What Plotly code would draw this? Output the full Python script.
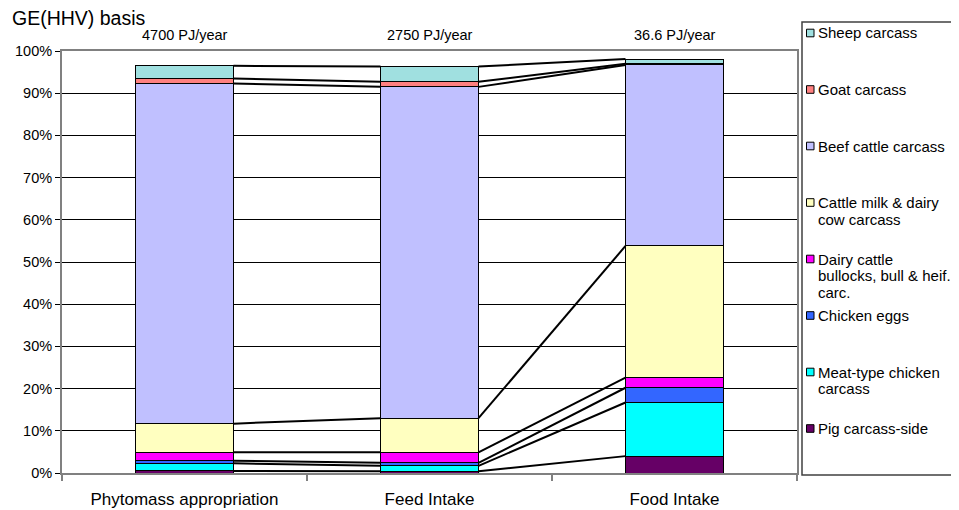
import plotly.graph_objects as go

# ---------------- data ----------------
categories = ["Phytomass appropriation", "Feed Intake", "Food Intake"]
energy_labels = ["4700 PJ/year", "2750 PJ/year", "36.6 PJ/year"]

# series listed bottom -> top of the stack (values in % of GE)
series_names = [
    "Pig carcass-side",
    "Meat-type chicken carcass",
    "Chicken eggs",
    "Dairy cattle bullocks, bull & heif. carc.",
    "Cattle milk & dairy cow carcass",
    "Beef cattle carcass",
    "Goat carcass",
    "Sheep carcass",
]
pig = [0.5, 0.4, 4.0]
meat_chicken = [1.8, 1.3, 12.7]
chicken_eggs = [0.6, 0.7, 3.5]
dairy_bullocks = [2.0, 2.5, 2.4]
cattle_milk = [6.8, 8.1, 31.2]
beef = [80.6, 78.5, 42.9]
goat = [1.2, 1.2, 0.3]
sheep = [3.0, 3.6, 1.1]
series_values = [pig, meat_chicken, chicken_eggs, dairy_bullocks,
                 cattle_milk, beef, goat, sheep]

# legend text (wrapped as in the original)
legend_lines = {
    "Sheep carcass": ["Sheep carcass"],
    "Goat carcass": ["Goat carcass"],
    "Beef cattle carcass": ["Beef cattle carcass"],
    "Cattle milk & dairy cow carcass": ["Cattle milk & dairy", "cow carcass"],
    "Dairy cattle bullocks, bull & heif. carc.": ["Dairy cattle", "bullocks, bull & heif.", "carc."],
    "Chicken eggs": ["Chicken eggs"],
    "Meat-type chicken carcass": ["Meat-type chicken", "carcass"],
    "Pig carcass-side": ["Pig carcass-side"],
}

# ---------------- style ----------------
colors = ["#660066", "#00FFFF", "#3366FF", "#FF00FF",
          "#FFFFC0", "#C0C0FF", "#FF8080", "#A0E0E0"]
FONT = "Liberation Sans, Arial, sans-serif"
BAR_W = 0.4
OFF = 8                      # default page (body) margin of the html page
PAGE_W, PAGE_H = 959, 510
W, H = PAGE_W - OFF, PAGE_H - OFF
PLOT_X0, PLOT_X1, PLOT_Y0, PLOT_Y1 = 62, 797, 51, 473   # page pixels
L, R, T, B = PLOT_X0 - OFF, PAGE_W - PLOT_X1, PLOT_Y0 - OFF, PAGE_H - PLOT_Y1
PW, PH = PLOT_X1 - PLOT_X0, PLOT_Y1 - PLOT_Y0


def px(xp):
    return (xp - PLOT_X0) / PW


def py(yp):
    return (PLOT_Y1 - yp) / PH


fig = go.Figure()
xs = list(range(len(categories)))

for name, vals, col in zip(series_names, series_values, colors):
    fig.add_trace(go.Bar(
        x=xs, y=vals, name=name, width=BAR_W,
        marker=dict(color=col, line=dict(color="#000000", width=1)),
        showlegend=False,
    ))

# series connector lines between neighbouring bars
cum = [0.0] * len(categories)
for vals in series_values:
    cum = [c + v for c, v in zip(cum, vals)]
    for i in range(len(categories) - 1):
        fig.add_trace(go.Scatter(
            x=[xs[i] + BAR_W / 2, xs[i + 1] - BAR_W / 2],
            y=[cum[i], cum[i + 1]],
            mode="lines", line=dict(color="#000000", width=2),
            showlegend=False, hoverinfo="skip",
        ))

annotations = []
for i, lab in enumerate(energy_labels):
    annotations.append(dict(
        x=xs[i], y=py(35), xref="x", yref="paper", text=lab, showarrow=False,
        xanchor="center", yanchor="middle",
        font=dict(family=FONT, size=14.5, color="#000000"),
    ))

shapes = []
# legend box
shapes.append(dict(type="rect", xref="paper", yref="paper",
                   x0=px(802), x1=px(957.5), y0=py(475), y1=py(22),
                   line=dict(color="#404040", width=1.5), fillcolor="rgba(0,0,0,0)"))
LEG_Y0, LEG_STEP, LINE_H = 33, 56.5, 16.7
order = list(range(len(series_names)))[::-1]
for k, si in enumerate(order):
    yc = LEG_Y0 + k * LEG_STEP
    shapes.append(dict(type="rect", xref="paper", yref="paper",
                       x0=px(806.5), x1=px(814), y0=py(yc + 3.8), y1=py(yc - 3.8),
                       line=dict(color="#000000", width=1), fillcolor=colors[si]))
    for j, ln in enumerate(legend_lines[series_names[si]]):
        annotations.append(dict(
            x=px(816), y=py(yc + j * LINE_H), xref="paper", yref="paper",
            text=ln, showarrow=False, xanchor="left", yanchor="middle",
            font=dict(family=FONT, size=15, color="#000000"),
        ))

fig.update_layout(
    width=W, height=H,
    margin=dict(l=L, r=R, t=T, b=B, autoexpand=False),
    paper_bgcolor="#FFFFFF", plot_bgcolor="#FFFFFF",
    barmode="stack",
    font=dict(family=FONT, color="#000000"),
    title=dict(text="GE(HHV) basis", x=(12 - OFF) / W, xref="container", xanchor="left",
               y=1 - (18 - OFF) / H, yref="container", yanchor="middle",
               font=dict(family=FONT, size=19.5, color="#000000")),
    annotations=annotations,
    shapes=shapes,
    xaxis=dict(
        range=[-0.5, 2.5], tickmode="array", tickvals=xs, ticktext=categories,
        ticks="", showgrid=False, zeroline=False, automargin=False,
        showline=True, linecolor="#808080", linewidth=2, mirror=True,
        tickfont=dict(family=FONT, size=17, color="#000000"),
        ticklabelstandoff=10,
        minor=dict(tickmode="array", tickvals=[-0.5, 0.5, 1.5, 2.5],
                   ticks="outside", ticklen=6, tickcolor="#808080", tickwidth=2,
                   showgrid=False),
    ),
    yaxis=dict(
        range=[0, 100], dtick=10, ticksuffix="%", automargin=False,
        showgrid=True, gridcolor="#000000", gridwidth=1, zeroline=False,
        showline=True, linecolor="#808080", linewidth=2, mirror=True,
        ticks="outside", ticklen=5, tickcolor="#000000",
        tickfont=dict(family=FONT, size=14.5, color="#000000"),
    ),
)

fig.write_html("out.html")
